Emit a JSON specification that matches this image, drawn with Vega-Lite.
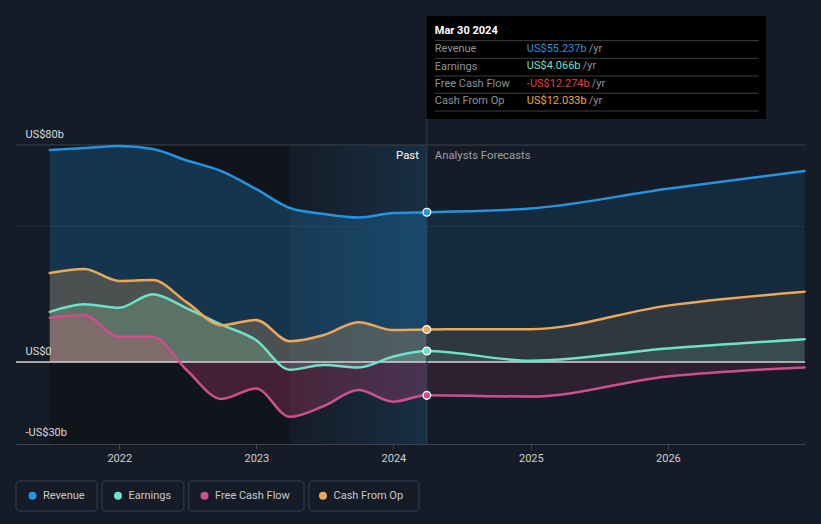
{
  "$schema": "https://vega.github.io/schema/vega-lite/v6.json",
  "width": 789,
  "height": 299,
  "autosize": {"type": "none"},
  "padding": {"left": 16, "top": 145, "right": 16, "bottom": 80},
  "background": "#151c27",
  "config": {"font": "Roboto", "view": {"stroke": null}, "axis": {"grid": false}},
  "datasets": {
    "main": [
      {"date": "2021-06-30", "series": "Revenue", "value": 78.2, "phase": "past"},
      {"date": "2021-09-30", "series": "Revenue", "value": 78.9, "phase": "past"},
      {"date": "2021-12-31", "series": "Revenue", "value": 79.6, "phase": "past"},
      {"date": "2022-03-31", "series": "Revenue", "value": 78.5, "phase": "past"},
      {"date": "2022-06-30", "series": "Revenue", "value": 74.3, "phase": "past"},
      {"date": "2022-09-30", "series": "Revenue", "value": 70.4, "phase": "past"},
      {"date": "2022-12-31", "series": "Revenue", "value": 63.8, "phase": "past"},
      {"date": "2023-03-31", "series": "Revenue", "value": 56.8, "phase": "past"},
      {"date": "2023-06-30", "series": "Revenue", "value": 54.6, "phase": "past"},
      {"date": "2023-09-30", "series": "Revenue", "value": 53.3, "phase": "past"},
      {"date": "2023-12-31", "series": "Revenue", "value": 54.9, "phase": "past"},
      {"date": "2024-03-30", "series": "Revenue", "value": 55.237, "phase": "past"},
      {"date": "2024-03-30", "series": "Revenue", "value": 55.237, "phase": "forecast"},
      {"date": "2024-12-31", "series": "Revenue", "value": 56.6, "phase": "forecast"},
      {"date": "2025-12-31", "series": "Revenue", "value": 63.9, "phase": "forecast"},
      {"date": "2026-12-31", "series": "Revenue", "value": 70.4, "phase": "forecast"},
      {"date": "2021-06-30", "series": "Earnings", "value": 18.5, "phase": "past"},
      {"date": "2021-09-30", "series": "Earnings", "value": 21.3, "phase": "past"},
      {"date": "2021-12-31", "series": "Earnings", "value": 20.0, "phase": "past"},
      {"date": "2022-03-31", "series": "Earnings", "value": 25.0, "phase": "past"},
      {"date": "2022-06-30", "series": "Earnings", "value": 19.8, "phase": "past"},
      {"date": "2022-09-30", "series": "Earnings", "value": 13.8, "phase": "past"},
      {"date": "2022-12-31", "series": "Earnings", "value": 8.1, "phase": "past"},
      {"date": "2023-03-31", "series": "Earnings", "value": -2.8, "phase": "past"},
      {"date": "2023-06-30", "series": "Earnings", "value": -1.1, "phase": "past"},
      {"date": "2023-09-30", "series": "Earnings", "value": -2.0, "phase": "past"},
      {"date": "2023-12-31", "series": "Earnings", "value": 2.0, "phase": "past"},
      {"date": "2024-03-30", "series": "Earnings", "value": 4.066, "phase": "past"},
      {"date": "2024-03-30", "series": "Earnings", "value": 4.066, "phase": "forecast"},
      {"date": "2024-12-31", "series": "Earnings", "value": 0.5, "phase": "forecast"},
      {"date": "2025-12-31", "series": "Earnings", "value": 5.0, "phase": "forecast"},
      {"date": "2026-12-31", "series": "Earnings", "value": 8.4, "phase": "forecast"},
      {"date": "2021-06-30", "series": "Free Cash Flow", "value": 16.3, "phase": "past"},
      {"date": "2021-09-30", "series": "Free Cash Flow", "value": 17.3, "phase": "past"},
      {"date": "2021-12-31", "series": "Free Cash Flow", "value": 9.3, "phase": "past"},
      {"date": "2022-03-31", "series": "Free Cash Flow", "value": 9.3, "phase": "past"},
      {"date": "2022-06-30", "series": "Free Cash Flow", "value": -3.0, "phase": "past"},
      {"date": "2022-09-30", "series": "Free Cash Flow", "value": -13.6, "phase": "past"},
      {"date": "2022-12-31", "series": "Free Cash Flow", "value": -9.7, "phase": "past"},
      {"date": "2023-03-31", "series": "Free Cash Flow", "value": -20.2, "phase": "past"},
      {"date": "2023-06-30", "series": "Free Cash Flow", "value": -16.2, "phase": "past"},
      {"date": "2023-09-30", "series": "Free Cash Flow", "value": -10.3, "phase": "past"},
      {"date": "2023-12-31", "series": "Free Cash Flow", "value": -14.6, "phase": "past"},
      {"date": "2024-03-30", "series": "Free Cash Flow", "value": -12.274, "phase": "past"},
      {"date": "2024-03-30", "series": "Free Cash Flow", "value": -12.274, "phase": "forecast"},
      {"date": "2024-12-31", "series": "Free Cash Flow", "value": -12.7, "phase": "forecast"},
      {"date": "2025-12-31", "series": "Free Cash Flow", "value": -5.3, "phase": "forecast"},
      {"date": "2026-12-31", "series": "Free Cash Flow", "value": -2.0, "phase": "forecast"},
      {"date": "2021-06-30", "series": "Cash From Op", "value": 32.8, "phase": "past"},
      {"date": "2021-09-30", "series": "Cash From Op", "value": 34.3, "phase": "past"},
      {"date": "2021-12-31", "series": "Cash From Op", "value": 29.9, "phase": "past"},
      {"date": "2022-03-31", "series": "Cash From Op", "value": 30.2, "phase": "past"},
      {"date": "2022-06-30", "series": "Cash From Op", "value": 22.0, "phase": "past"},
      {"date": "2022-09-30", "series": "Cash From Op", "value": 13.6, "phase": "past"},
      {"date": "2022-12-31", "series": "Cash From Op", "value": 15.5, "phase": "past"},
      {"date": "2023-03-31", "series": "Cash From Op", "value": 7.7, "phase": "past"},
      {"date": "2023-06-30", "series": "Cash From Op", "value": 10.0, "phase": "past"},
      {"date": "2023-09-30", "series": "Cash From Op", "value": 14.7, "phase": "past"},
      {"date": "2023-12-31", "series": "Cash From Op", "value": 11.8, "phase": "past"},
      {"date": "2024-03-30", "series": "Cash From Op", "value": 12.033, "phase": "past"},
      {"date": "2024-03-30", "series": "Cash From Op", "value": 12.033, "phase": "forecast"},
      {"date": "2024-12-31", "series": "Cash From Op", "value": 12.1, "phase": "forecast"},
      {"date": "2025-12-31", "series": "Cash From Op", "value": 20.8, "phase": "forecast"},
      {"date": "2026-12-31", "series": "Cash From Op", "value": 25.9, "phase": "forecast"}
    ],
    "tip": [
      {"row": "Revenue", "value": "US$55.237b"},
      {"row": "Earnings", "value": "US$4.066b"},
      {"row": "Free Cash Flow", "value": "-US$12.274b"},
      {"row": "Cash From Op", "value": "US$12.033b"}
    ]
  },
  "layer": [
    {
      "data": {"values": [{}]},
      "mark": {"type": "rect", "color": "#10151c"},
      "encoding": {
        "x": {"datum": {"year": 2021, "month": 6, "date": 30}, "type": "temporal"},
        "x2": {"datum": {"year": 2023, "month": 3, "date": 31}}
      }
    },
    {
      "data": {"values": [{}]},
      "mark": {"type": "rect", "color": {"gradient": "linear", "x1": 0, "x2": 1, "y1": 0, "y2": 0, "stops": [{"offset": 0, "color": "rgba(35,148,223,0.0)"}, {"offset": 1, "color": "rgba(35,148,223,0.16)"}]}},
      "encoding": {
        "x": {"datum": {"year": 2023, "month": 3, "date": 31}, "type": "temporal"},
        "x2": {"datum": {"year": 2024, "month": 3, "date": 30}}
      }
    },
    {
      "data": {"values": [{}]},
      "mark": {"type": "rule", "color": "#3d424b", "strokeWidth": 1},
      "encoding": {"y": {"datum": 80, "type": "quantitative"}}
    },
    {
      "data": {"values": [{}]},
      "mark": {"type": "rule", "color": "#252d39", "strokeWidth": 1},
      "encoding": {"y": {"datum": 50, "type": "quantitative"}}
    },
    {
      "data": {"name": "main"},
      "mark": {"type": "area", "interpolate": "monotone"},
      "encoding": {
        "x": {
          "field": "date", "type": "temporal",
          "scale": {"domain": [{"year": 2021, "month": 4, "date": 1}, {"year": 2027, "month": 1, "date": 1}]},
          "axis": {
            "values": [{"year": 2022, "month": 1, "date": 1}, {"year": 2023, "month": 1, "date": 1}, {"year": 2024, "month": 1, "date": 1}, {"year": 2025, "month": 1, "date": 1}, {"year": 2026, "month": 1, "date": 1}],
            "format": "%Y", "title": null, "grid": false, "zindex": 1,
            "domainColor": "#3d434d", "tickColor": "#3d434d", "tickSize": 5,
            "labelColor": "#cfcfcf", "labelFontSize": 11, "labelPadding": 3, "labelFlush": false
          }
        },
        "y": {
          "field": "value", "type": "quantitative", "stack": null,
          "scale": {"domain": [-30.2, 80], "nice": false, "zero": false},
          "axis": {
            "values": [80, 0, -30],
            "labelExpr": "datum.value == 0 ? 'US$0' : (datum.value > 0 ? 'US$' + datum.value + 'b' : '-US$' + (-datum.value) + 'b')",
            "title": null, "domain": false, "ticks": false, "tickSize": 0, "grid": false, "zindex": 1,
            "labelAlign": "left", "labelPadding": -9, "labelBaseline": "alphabetic", "labelOffset": -8,
            "labelColor": "#dcdcdc", "labelFontSize": 11, "labelFlush": false, "labelOverlap": false
          }
        },
        "y2": {"datum": 0},
        "fill": {
          "field": "series", "type": "nominal",
          "scale": {"domain": ["Cash From Op", "Earnings", "Free Cash Flow", "Revenue"], "range": ["#eaa85a", "#6ee2c9", "#e0457a", "#2394df"]},
          "legend": null
        },
        "opacity": {
          "field": "phase", "type": "nominal",
          "scale": {"domain": ["past", "forecast"], "range": [0.25, 0.12]},
          "legend": null
        }
      }
    },
    {
      "data": {"values": [{}]},
      "mark": {"type": "rule", "color": "#d2d5d9", "strokeWidth": 1.5},
      "encoding": {"y": {"datum": 0, "type": "quantitative"}}
    },
    {
      "data": {"values": [{}]},
      "mark": {"type": "rule", "color": "#33404f", "strokeWidth": 1},
      "encoding": {
        "x": {"datum": {"year": 2024, "month": 3, "date": 30}, "type": "temporal"},
        "y": {"datum": 89.6, "type": "quantitative"},
        "y2": {"datum": -30.2}
      }
    },
    {
      "data": {"name": "main"},
      "transform": [{"filter": "!(datum.phase === 'forecast' && year(datum.date) === 2024 && month(datum.date) === 2)"}],
      "mark": {"type": "line", "interpolate": "monotone", "strokeWidth": 2.5, "strokeCap": "round"},
      "encoding": {
        "x": {"field": "date", "type": "temporal"},
        "y": {"field": "value", "type": "quantitative"},
        "stroke": {
          "field": "series", "type": "nominal",
          "scale": {"domain": ["Cash From Op", "Earnings", "Free Cash Flow", "Revenue"], "range": ["#eaa85a", "#6ee2c9", "#cd4f8d", "#2394df"]},
          "legend": null
        }
      }
    },
    {
      "data": {"name": "main"},
      "transform": [{"filter": "datum.phase === 'past' && year(datum.date) === 2024"}],
      "mark": {"type": "point", "filled": true, "size": 60, "stroke": "#ffffff", "strokeWidth": 1.3, "opacity": 1},
      "encoding": {
        "x": {"field": "date", "type": "temporal"},
        "y": {"field": "value", "type": "quantitative"},
        "color": {
          "field": "series", "type": "nominal",
          "scale": {"domain": ["Revenue", "Earnings", "Free Cash Flow", "Cash From Op"], "range": ["#2394df", "#6ee2c9", "#cd4f8d", "#eaa85a"]},
          "legend": {
            "orient": "none", "legendX": 11, "legendY": 345, "direction": "horizontal",
            "title": null, "symbolType": "circle", "symbolSize": 64, "symbolStrokeWidth": 0,
            "labelFontSize": 11, "labelColor": "#c8c8c8",
            "columnPadding": 27.5, "labelOffset": 5, "padding": 0,
            "encode": {"symbols": {"update": {"stroke": {"value": "transparent"}, "strokeWidth": {"value": 0}}}}
          }
        }
      }
    },
    {
      "data": {"values": [{}]},
      "mark": {"type": "rect", "fill": "transparent", "stroke": "#3a404a", "strokeWidth": 1, "cornerRadius": 3},
      "encoding": {
        "x": {"datum": {"year": 2021, "month": 4, "date": 1}, "type": "temporal"},
        "x2": {"datum": {"year": 2021, "month": 11, "date": 3}},
        "y": {"datum": -43.84, "type": "quantitative"},
        "y2": {"datum": -54.89}
      }
    },
    {
      "data": {"values": [{}]},
      "mark": {"type": "rect", "fill": "transparent", "stroke": "#3a404a", "strokeWidth": 1, "cornerRadius": 3},
      "encoding": {
        "x": {"datum": {"year": 2021, "month": 11, "date": 16}, "type": "temporal"},
        "x2": {"datum": {"year": 2022, "month": 6, "date": 22}},
        "y": {"datum": -43.84, "type": "quantitative"},
        "y2": {"datum": -54.89}
      }
    },
    {
      "data": {"values": [{}]},
      "mark": {"type": "rect", "fill": "transparent", "stroke": "#3a404a", "strokeWidth": 1, "cornerRadius": 3},
      "encoding": {
        "x": {"datum": {"year": 2022, "month": 7, "date": 5}, "type": "temporal"},
        "x2": {"datum": {"year": 2023, "month": 5, "date": 8}},
        "y": {"datum": -43.84, "type": "quantitative"},
        "y2": {"datum": -54.89}
      }
    },
    {
      "data": {"values": [{}]},
      "mark": {"type": "rect", "fill": "transparent", "stroke": "#3a404a", "strokeWidth": 1, "cornerRadius": 3},
      "encoding": {
        "x": {"datum": {"year": 2023, "month": 5, "date": 21}, "type": "temporal"},
        "x2": {"datum": {"year": 2024, "month": 3, "date": 9}},
        "y": {"datum": -43.84, "type": "quantitative"},
        "y2": {"datum": -54.89}
      }
    },
    {
      "data": {"values": [{}]},
      "mark": {"type": "text", "text": "Past", "align": "right", "baseline": "middle", "dx": -8, "dy": 11, "fontSize": 11.3, "color": "#ffffff"},
      "encoding": {
        "x": {"datum": {"year": 2024, "month": 3, "date": 30}, "type": "temporal"},
        "y": {"datum": 80, "type": "quantitative"}
      }
    },
    {
      "data": {"values": [{}]},
      "mark": {"type": "text", "text": "Analysts Forecasts", "align": "left", "baseline": "middle", "dx": 8, "dy": 11, "fontSize": 11.3, "color": "#9aa0a6"},
      "encoding": {
        "x": {"datum": {"year": 2024, "month": 3, "date": 30}, "type": "temporal"},
        "y": {"datum": 80, "type": "quantitative"}
      }
    },
    {
      "data": {"values": [{}]},
      "mark": {"type": "rect", "color": "#000000"},
      "encoding": {
        "x": {"datum": {"year": 2024, "month": 3, "date": 30}, "type": "temporal"},
        "x2": {"datum": {"year": 2026, "month": 9, "date": 19}},
        "y": {"datum": 127.55, "type": "quantitative"},
        "y2": {"datum": 89.58}
      }
    },
    {
      "data": {"values": [{}]},
      "mark": {"type": "rule", "color": "#3f3f3f", "strokeWidth": 1},
      "encoding": {
        "x": {"datum": {"year": 2024, "month": 4, "date": 20}, "type": "temporal"},
        "x2": {"datum": {"year": 2026, "month": 8, "date": 31}},
        "y": {"datum": 118.45, "type": "quantitative"}
      }
    },
    {
      "data": {"values": [{}]},
      "mark": {"type": "rule", "color": "#3f3f3f", "strokeWidth": 1},
      "encoding": {
        "x": {"datum": {"year": 2024, "month": 4, "date": 20}, "type": "temporal"},
        "x2": {"datum": {"year": 2026, "month": 8, "date": 31}},
        "y": {"datum": 111.95, "type": "quantitative"}
      }
    },
    {
      "data": {"values": [{}]},
      "mark": {"type": "rule", "color": "#3f3f3f", "strokeWidth": 1},
      "encoding": {
        "x": {"datum": {"year": 2024, "month": 4, "date": 20}, "type": "temporal"},
        "x2": {"datum": {"year": 2026, "month": 8, "date": 31}},
        "y": {"datum": 105.43, "type": "quantitative"}
      }
    },
    {
      "data": {"values": [{}]},
      "mark": {"type": "rule", "color": "#3f3f3f", "strokeWidth": 1},
      "encoding": {
        "x": {"datum": {"year": 2024, "month": 4, "date": 20}, "type": "temporal"},
        "x2": {"datum": {"year": 2026, "month": 8, "date": 31}},
        "y": {"datum": 99.06, "type": "quantitative"}
      }
    },
    {
      "data": {"values": [{}]},
      "mark": {"type": "rule", "color": "#3f3f3f", "strokeWidth": 1},
      "encoding": {
        "x": {"datum": {"year": 2024, "month": 4, "date": 20}, "type": "temporal"},
        "x2": {"datum": {"year": 2026, "month": 8, "date": 31}},
        "y": {"datum": 92.53, "type": "quantitative"}
      }
    },
    {
      "data": {"values": [{}]},
      "mark": {"type": "text", "text": "Mar 30 2024", "align": "left", "baseline": "middle", "dx": 8, "fontSize": 11, "fontWeight": "bold", "color": "#ffffff"},
      "encoding": {
        "x": {"datum": {"year": 2024, "month": 3, "date": 30}, "type": "temporal"},
        "y": {"datum": 122.0, "type": "quantitative"}
      }
    },
    {
      "data": {"values": [{}]},
      "mark": {"type": "text", "text": ["Revenue", "Earnings", "Free Cash Flow", "Cash From Op"], "lineHeight": 17.25, "align": "left", "baseline": "top", "dx": 8, "dy": -6, "fontSize": 11, "color": "#8e9399"},
      "encoding": {
        "x": {"datum": {"year": 2024, "month": 3, "date": 30}, "type": "temporal"},
        "y": {"datum": 115.27, "type": "quantitative"}
      }
    },
    {
      "data": {"name": "tip"},
      "transform": [{"filter": "datum.row === 'Revenue'"}],
      "layer": [
        {"mark": {"type": "text", "align": "left", "baseline": "middle", "dx": 100, "fontSize": 11, "color": "#2394df"},
         "encoding": {"x": {"datum": {"year": 2024, "month": 3, "date": 30}, "type": "temporal"}, "y": {"datum": 115.27, "type": "quantitative"}, "text": {"field": "value"}}},
        {"mark": {"type": "text", "align": "left", "baseline": "middle", "dx": 162, "fontSize": 11, "color": "#8e9399", "text": "/yr"},
         "encoding": {"x": {"datum": {"year": 2024, "month": 3, "date": 30}, "type": "temporal"}, "y": {"datum": 115.27, "type": "quantitative"}}}
      ]
    },
    {
      "data": {"name": "tip"},
      "transform": [{"filter": "datum.row === 'Earnings'"}],
      "layer": [
        {"mark": {"type": "text", "align": "left", "baseline": "middle", "dx": 100, "fontSize": 11, "color": "#6ee2c9"},
         "encoding": {"x": {"datum": {"year": 2024, "month": 3, "date": 30}, "type": "temporal"}, "y": {"datum": 109.0, "type": "quantitative"}, "text": {"field": "value"}}},
        {"mark": {"type": "text", "align": "left", "baseline": "middle", "dx": 156, "fontSize": 11, "color": "#8e9399", "text": "/yr"},
         "encoding": {"x": {"datum": {"year": 2024, "month": 3, "date": 30}, "type": "temporal"}, "y": {"datum": 109.0, "type": "quantitative"}}}
      ]
    },
    {
      "data": {"name": "tip"},
      "transform": [{"filter": "datum.row === 'Free Cash Flow'"}],
      "layer": [
        {"mark": {"type": "text", "align": "left", "baseline": "middle", "dx": 100, "fontSize": 11, "color": "#e5403f"},
         "encoding": {"x": {"datum": {"year": 2024, "month": 3, "date": 30}, "type": "temporal"}, "y": {"datum": 102.49, "type": "quantitative"}, "text": {"field": "value"}}},
        {"mark": {"type": "text", "align": "left", "baseline": "middle", "dx": 165, "fontSize": 11, "color": "#8e9399", "text": "/yr"},
         "encoding": {"x": {"datum": {"year": 2024, "month": 3, "date": 30}, "type": "temporal"}, "y": {"datum": 102.49, "type": "quantitative"}}}
      ]
    },
    {
      "data": {"name": "tip"},
      "transform": [{"filter": "datum.row === 'Cash From Op'"}],
      "layer": [
        {"mark": {"type": "text", "align": "left", "baseline": "middle", "dx": 100, "fontSize": 11, "color": "#eaa85a"},
         "encoding": {"x": {"datum": {"year": 2024, "month": 3, "date": 30}, "type": "temporal"}, "y": {"datum": 96.22, "type": "quantitative"}, "text": {"field": "value"}}},
        {"mark": {"type": "text", "align": "left", "baseline": "middle", "dx": 162, "fontSize": 11, "color": "#8e9399", "text": "/yr"},
         "encoding": {"x": {"datum": {"year": 2024, "month": 3, "date": 30}, "type": "temporal"}, "y": {"datum": 96.22, "type": "quantitative"}}}
      ]
    }
  ]
}
